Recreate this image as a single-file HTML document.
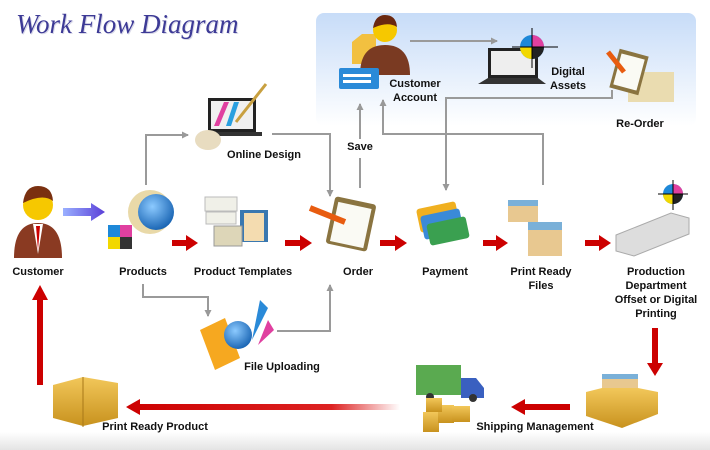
<!DOCTYPE html>
<html><head><meta charset="utf-8"><style>
html,body{margin:0;padding:0;background:#fff}
svg{display:block}
text{font-family:"Liberation Sans",sans-serif;font-size:11px;font-weight:bold;fill:#111;text-anchor:middle}
</style></head><body>
<svg width="710" height="450" viewBox="0 0 710 450" xmlns="http://www.w3.org/2000/svg">
<defs>
<linearGradient id="bx" x1="0" y1="0" x2="0" y2="1"><stop offset="0" stop-color="#c7dcf8"/><stop offset="1" stop-color="#ffffff"/></linearGradient>
<linearGradient id="bot" x1="0" y1="0" x2="0" y2="1"><stop offset="0" stop-color="#fff"/><stop offset="1" stop-color="#e4e4e4"/></linearGradient>
<linearGradient id="fadeL" x1="0" y1="0" x2="1" y2="0"><stop offset="0" stop-color="#c00"/><stop offset=".75" stop-color="#d22"/><stop offset="1" stop-color="#fff"/></linearGradient>
<linearGradient id="pur" x1="0" y1="0" x2="1" y2="0"><stop offset="0" stop-color="#9ab0ff"/><stop offset="1" stop-color="#5a3fd8"/></linearGradient>
<radialGradient id="glob" cx=".4" cy=".35" r=".7"><stop offset="0" stop-color="#8ccaff"/><stop offset="1" stop-color="#1460b0"/></radialGradient>
<linearGradient id="box" x1="0" y1="0" x2="0" y2="1"><stop offset="0" stop-color="#f2c75a"/><stop offset="1" stop-color="#c8921e"/></linearGradient>
<marker id="ga" markerWidth="8" markerHeight="8" refX="6" refY="4" orient="auto" markerUnits="userSpaceOnUse"><path d="M0,0.5 L7,4 L0,7.5 z" fill="#999"/></marker>
</defs>
<rect x="0" y="432" width="710" height="18" fill="url(#bot)"/>
<rect x="316" y="13" width="380" height="113" rx="8" fill="url(#bx)"/>
<text x="17" y="34" style="font-family:'Liberation Serif',serif;font-style:italic;font-weight:normal;font-size:27px;text-anchor:start;fill:#d8d8e8">Work Flow Diagram</text>
<text x="16" y="33" style="font-family:'Liberation Serif',serif;font-style:italic;font-weight:normal;font-size:27px;text-anchor:start;fill:#3d3a96">Work Flow Diagram</text>

<g fill="none" stroke="#9a9a9a" stroke-width="2">
<path d="M146,185 V135 H188" marker-end="url(#ga)"/>
<path d="M272,134 H330 V196" marker-end="url(#ga)"/>
<path d="M143,284 V297 H208 V316" marker-end="url(#ga)"/>
<path d="M277,331 H330 V285" marker-end="url(#ga)"/>
<path d="M360,188 V158"/>
<path d="M360,139 V104" marker-end="url(#ga)"/>
<path d="M543,185 V134 H383 V100" marker-end="url(#ga)"/>
<path d="M612,90 V98 H446 V190" marker-end="url(#ga)"/>
<path d="M410,41 H497" marker-end="url(#ga)"/>
</g>

<g fill="#cc0000">
<path d="M172,240 h14 v-5 l12,8 l-12,8 v-5 h-14z"/>
<path d="M285,240 h15 v-5 l12,8 l-12,8 v-5 h-15z"/>
<path d="M380,240 h15 v-5 l12,8 l-12,8 v-5 h-15z"/>
<path d="M483,240 h13 v-5 l12,8 l-12,8 v-5 h-13z"/>
<path d="M585,240 h14 v-5 l12,8 l-12,8 v-5 h-14z"/>
<path d="M652,328 h6 v35 h5 l-8,13 l-8,-13 h5z"/>
<path d="M570,404 v6 h-45 v5 l-14,-8 l14,-8 v5z"/>
<path d="M37,385 v-85 h-5 l8,-15 l8,15 h-5 v85z"/>
</g>
<path d="M400,404 v6 H140 v5 l-14,-8 l14,-8 v5z" fill="url(#fadeL)"/>
<path d="M105,212 l-14,-9 v5 h-28 v8 h28 v5z" fill="url(#pur)"/>

<g>
<path d="M14,258 q0,-35 24,-35 q24,0 24,35z" fill="#8a3a22"/>
<path d="M33,224 l5,30 l5,-30z" fill="#fff"/><path d="M36,226 l2,24 l2,-24z" fill="#c00"/>
<circle cx="38" cy="205" r="15" fill="#f6c800"/><path d="M23,203 q2,-17 15,-17 q14,0 15,15 q-10,-8 -30,2z" fill="#7a3010"/>
</g>
<g><circle cx="150" cy="212" r="22" fill="#e9d9a8"/><circle cx="156" cy="212" r="18" fill="url(#glob)"/>
<rect x="108" y="225" width="12" height="12" fill="#1e88d8"/><rect x="120" y="225" width="12" height="12" fill="#e040a0"/>
<rect x="108" y="237" width="12" height="12" fill="#f2d800"/><rect x="120" y="237" width="12" height="12" fill="#333"/></g>
<g><rect x="240" y="210" width="28" height="32" fill="#3a78b0"/><rect x="244" y="213" width="20" height="28" fill="#f4dcb0"/>
<rect x="205" y="197" width="32" height="14" fill="#f0f0e8" stroke="#bbb"/><rect x="206" y="212" width="30" height="12" fill="#f0f0e8" stroke="#bbb"/>
<rect x="214" y="226" width="28" height="20" fill="#ddd6b8" stroke="#999"/></g>
<g><rect x="208" y="98" width="48" height="34" fill="#222"/><rect x="211" y="101" width="42" height="28" fill="#f0f0f0"/>
<path d="M214,126 l10,-24 l5,0 l-10,24z" fill="#e040a0"/><path d="M226,126 l8,-24 l5,0 l-8,24z" fill="#2aa0e0"/>
<rect x="200" y="132" width="62" height="4" fill="#333"/><line x1="236" y1="122" x2="266" y2="84" stroke="#c8a040" stroke-width="3"/>
<ellipse cx="208" cy="140" rx="13" ry="10" fill="#e8dcc0"/></g>
<g><rect x="330" y="200" width="42" height="48" rx="3" fill="#8a7440" transform="rotate(12 351 224)"/><rect x="334" y="205" width="34" height="40" fill="#fafaf4" transform="rotate(12 351 224)"/>
<line x1="310" y1="208" x2="345" y2="222" stroke="#e85c10" stroke-width="6"/></g>
<g><rect x="418" y="205" width="40" height="24" rx="3" fill="#f0b020" transform="rotate(-12 438 217)"/><rect x="422" y="212" width="40" height="24" rx="3" fill="#3a8ad8" transform="rotate(-12 442 224)"/><rect x="428" y="220" width="40" height="22" rx="3" fill="#3aa050" transform="rotate(-12 448 231)"/></g>
<g><rect x="508" y="200" width="30" height="22" fill="#e8c890"/><rect x="508" y="200" width="30" height="6" fill="#7ab0d8"/>
<rect x="528" y="222" width="34" height="34" fill="#e8c890"/><rect x="528" y="222" width="34" height="8" fill="#7ab0d8"/></g>
<g><path d="M616,235 l55,-22 l18,5 v16 l-55,22 l-18,-5z" fill="#ddd" stroke="#aaa"/>
<circle cx="673" cy="194" r="10" fill="#1e88d8"/><path d="M673,184 a10,10 0 0 1 10,10 h-10z" fill="#e040a0"/><path d="M663,194 h10 v10 a10,10 0 0 1 -10,-10z" fill="#f2d800"/><path d="M673,194 h10 a10,10 0 0 1 -10,10z" fill="#222"/>
<line x1="673" y1="180" x2="673" y2="210" stroke="#000"/><line x1="658" y1="194" x2="688" y2="194" stroke="#000"/></g>
<g><path d="M352,42 l10,-8 h14 v30 h-24z" fill="#f2c040"/>
<path d="M360,75 q0,-30 25,-30 q25,0 25,30z" fill="#7a3a22"/><circle cx="385" cy="30" r="12" fill="#f6c800"/><path d="M373,28 q2,-13 12,-13 q11,0 12,12 q-9,-6 -24,1z" fill="#6a2810"/>
<rect x="339" y="68" width="40" height="21" rx="2" fill="#2a8ad8"/><rect x="343" y="74" width="28" height="3" fill="#fff"/><rect x="343" y="80" width="28" height="3" fill="#fff"/></g>
<g><rect x="488" y="48" width="50" height="30" fill="#222"/><rect x="491" y="51" width="44" height="24" fill="#eee"/><path d="M478,84 l10,-6 h50 l8,6z" fill="#333"/>
<circle cx="532" cy="47" r="12" fill="#1e88d8"/><path d="M532,35 a12,12 0 0 1 12,12 h-12z" fill="#e040a0"/><path d="M520,47 h12 v12 a12,12 0 0 1 -12,-12z" fill="#f2d800"/><path d="M532,47 h12 a12,12 0 0 1 -12,12z" fill="#222"/>
<line x1="532" y1="28" x2="532" y2="68" stroke="#000"/><line x1="512" y1="47" x2="558" y2="47" stroke="#000"/></g>
<g><rect x="628" y="72" width="46" height="30" fill="#eadcb0"/><rect x="614" y="52" width="30" height="40" fill="#8a7440" transform="rotate(15 629 72)"/><rect x="617" y="56" width="24" height="32" fill="#fafaf4" transform="rotate(15 629 72)"/><line x1="608" y1="52" x2="624" y2="72" stroke="#e85c10" stroke-width="5"/></g>
<g><path d="M200,330 l25,-12 l15,40 l-25,12z" fill="#f6a820"/><circle cx="238" cy="335" r="14" fill="url(#glob)"/><path d="M252,340 l8,-40 l8,8z" fill="#2a8ad8"/><path d="M258,345 l10,-25 l6,10z" fill="#e040a0"/></g>
<g><rect x="602" y="374" width="36" height="18" fill="#e8c890"/><rect x="602" y="374" width="36" height="5" fill="#7ab0d8"/><path d="M586,392 l16,-4 h36 l20,4 v22 l-36,14 l-36,-12z" fill="url(#box)"/></g>
<g><rect x="416" y="365" width="45" height="30" fill="#5aaa50"/><path d="M461,378 h15 l8,10 v10 h-23z" fill="#3a60c0"/><circle cx="430" cy="397" r="4" fill="#333"/><circle cx="473" cy="398" r="4" fill="#333"/>
<rect x="423" y="412" width="16" height="20" fill="url(#box)"/><rect x="438" y="405" width="16" height="18" fill="url(#box)"/><rect x="452" y="406" width="18" height="16" fill="url(#box)"/><rect x="426" y="398" width="16" height="14" fill="url(#box)"/></g>
<g><path d="M53,385 l30,-8 l35,6 v35 l-35,8 l-30,-8z" fill="url(#box)"/><path d="M83,377 v50" stroke="#a87818" stroke-width="1"/></g>

<text x="38" y="275">Customer</text>
<text x="143" y="275">Products</text>
<text x="243" y="275">Product Templates</text>
<text x="358" y="275">Order</text>
<text x="445" y="275">Payment</text>
<text x="541" y="275">Print Ready</text><text x="541" y="289">Files</text>
<text x="656" y="275">Production</text><text x="656" y="289">Department</text><text x="656" y="303">Offset or Digital</text><text x="656" y="317">Printing</text>
<text x="264" y="158">Online Design</text>
<text x="282" y="370">File Uploading</text>
<text x="360" y="150">Save</text>
<text x="415" y="87">Customer</text><text x="415" y="101">Account</text>
<text x="568" y="75">Digital</text><text x="568" y="89">Assets</text>
<text x="640" y="127">Re-Order</text>
<text x="535" y="430">Shipping Management</text>
<text x="155" y="430">Print Ready Product</text>
</svg>
</body></html>
